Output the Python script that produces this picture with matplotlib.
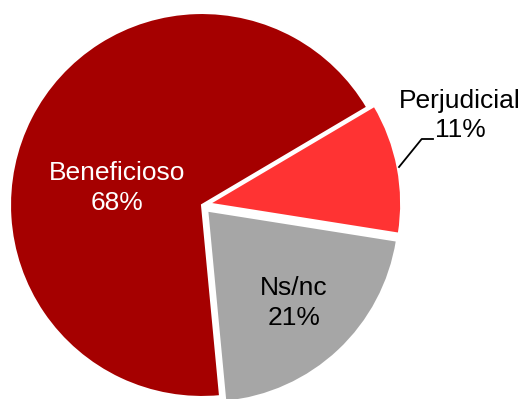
import matplotlib
matplotlib.use("Agg")
import matplotlib.pyplot as plt
from matplotlib.lines import Line2D

labels = ["Beneficioso", "Perjudicial", "Ns/nc"]
shares = [68, 11, 21]
colors = ["#A50000", "#FF3333", "#A6A6A6"]
text_colors = ["white", "black", "black"]

W, H = 526, 399
fig = plt.figure(figsize=(W / 100, H / 100), dpi=100)
ax = fig.add_axes([0, 0, 1, 1])

# pie centre and radius in pixels
cx, cy, r = 202.0, 205.0, 192.0

ax.pie(shares, colors=colors, startangle=-84.6, counterclock=False,
       explode=[0.0, 0.038, 0.04], radius=1.0,
       wedgeprops=dict(edgecolor="white", linewidth=1.5))
ax.set_xlim(-cx / r, (W - cx) / r)
ax.set_ylim(-(H - cy) / r, cy / r)
ax.set_aspect("equal")
ax.axis("off")

font = "Liberation Sans"
label_pos = [(117.5, 188), (460, 115.5), (294, 303)]
for lab, val, (px, py), tc in zip(labels, shares, label_pos, text_colors):
    fig.text(px / W, 1 - py / H, f"{lab}\n{val}%", ha="center", va="center",
             color=tc, fontsize=19, family=font, linespacing=1.3)

# leader line for the small slice
lx = [399, 421.7, 433]
ly = [167, 139, 139]
fig.add_artist(Line2D([x / W for x in lx], [1 - y / H for y in ly],
                      color="black", linewidth=1.3, transform=fig.transFigure))

fig.savefig("out.png", dpi=100)
